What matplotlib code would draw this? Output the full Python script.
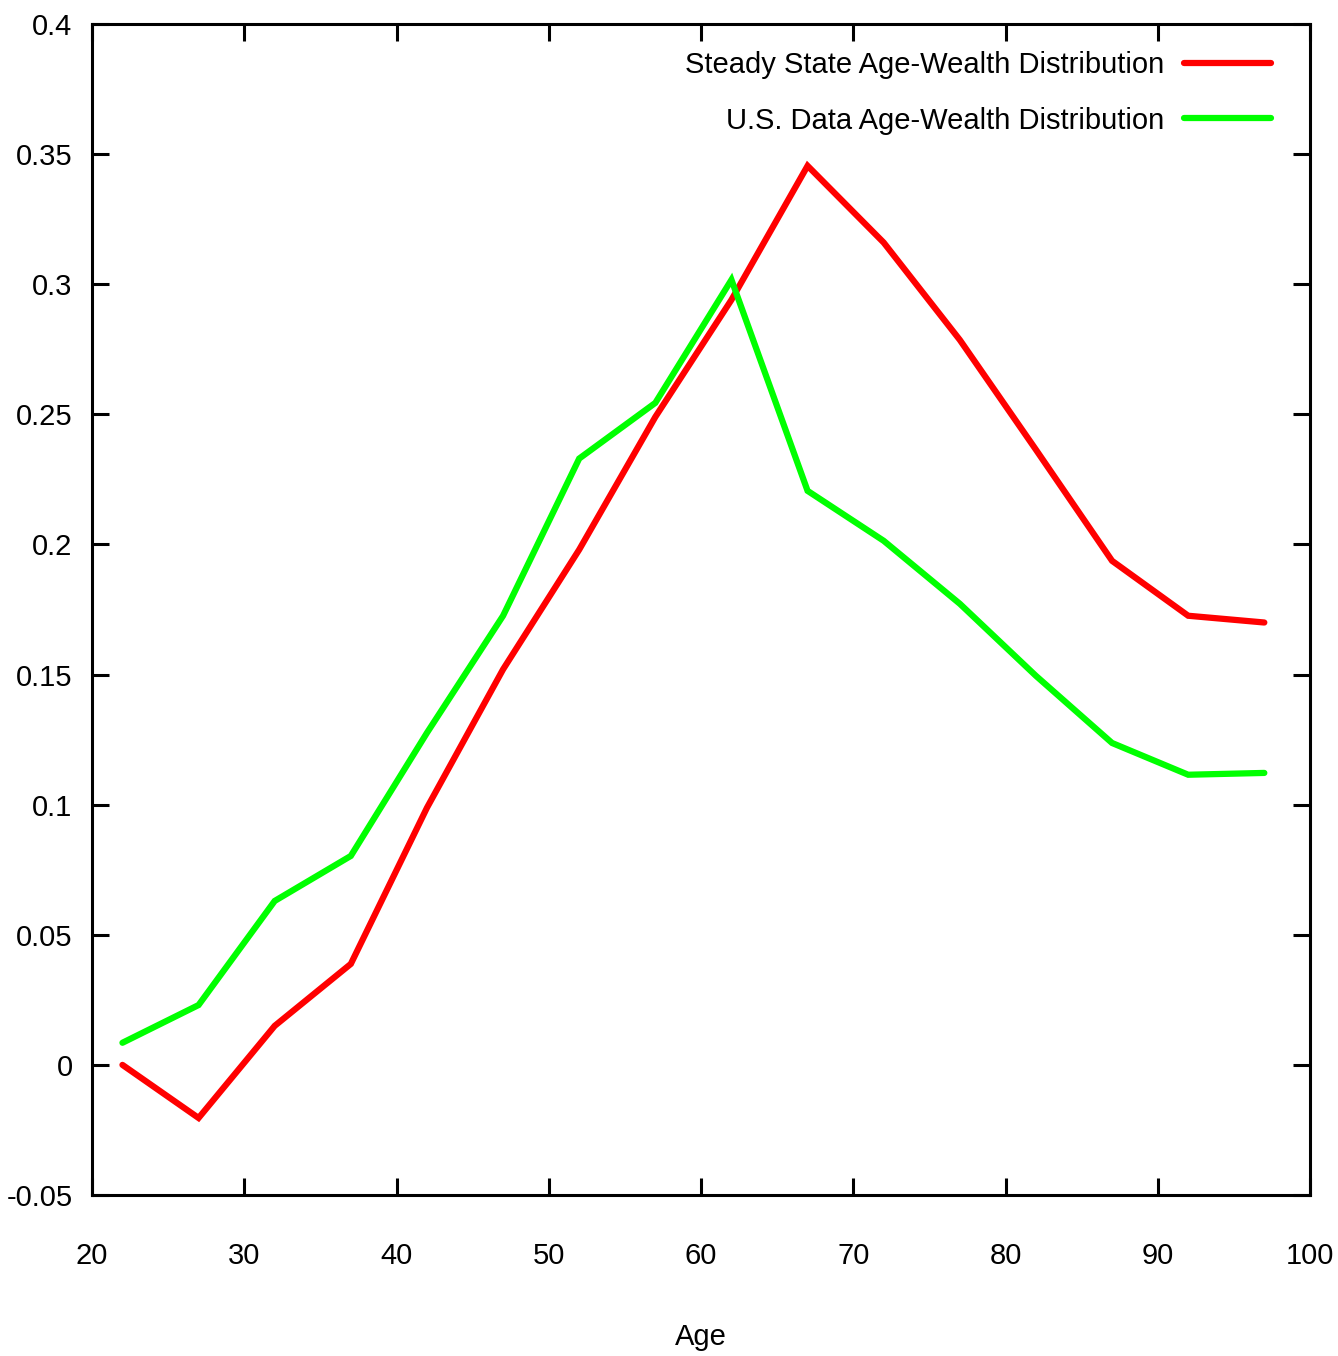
import matplotlib
matplotlib.use("Agg")
import matplotlib.pyplot as plt
from matplotlib import font_manager

# ---- data ----
ages = [22, 27, 32, 37, 42, 47, 52, 57, 62, 67, 72, 77, 82, 87, 92, 97]
steady_state = [0.0, -0.0204, 0.015, 0.0388, 0.0988, 0.152, 0.198, 0.249,
                0.294, 0.3455, 0.316, 0.2786, 0.2364, 0.1937, 0.1726, 0.170]
us_data = [0.0085, 0.023, 0.063, 0.0803, 0.1276, 0.1726, 0.233, 0.2544,
           0.3017, 0.2206, 0.2014, 0.1772, 0.1495, 0.1237, 0.1115, 0.1122]

xticks = [20, 30, 40, 50, 60, 70, 80, 90, 100]
yticks = [-0.05, 0, 0.05, 0.1, 0.15, 0.2, 0.25, 0.3, 0.35, 0.4]
ytick_labels = ["-0.05", "0", "0.05", "0.1", "0.15", "0.2", "0.25", "0.3", "0.35", "0.4"]

# gnuplot output uses a narrow helvetica; take Liberation Sans Narrow if it is there
narrow = None
for f in font_manager.fontManager.ttflist:
    fn = f.fname.lower().replace("-", "").replace("_", "")
    if "liberationsansnarrow" in fn and "bold" not in fn and "italic" not in fn:
        narrow = f
        break
if narrow is not None:
    plt.rcParams["font.family"] = [narrow.name, "DejaVu Sans"]
    FS = 24
else:
    plt.rcParams["font.family"] = ["Liberation Sans", "DejaVu Sans"]
    FS = 21

W, H = 1338, 1356
fig = plt.figure(figsize=(W / 100, H / 100), dpi=100)
ax = fig.add_axes([92 / W, 1 - 1195 / H, (1310 - 92) / W, (1195 - 24) / H])

ax.plot(ages, steady_state, color="#ff0000", lw=4.5, solid_capstyle="round",
        solid_joinstyle="miter", label="Steady State Age-Wealth Distribution")
ax.plot(ages, us_data, color="#00ff00", lw=4.5, solid_capstyle="round",
        solid_joinstyle="miter", label="U.S. Data Age-Wealth Distribution")

ax.set_xlim(20, 100)
ax.set_ylim(-0.05, 0.4)
ax.set_xticks(xticks)
ax.set_xticklabels([str(t) for t in xticks])
ax.set_yticks(yticks)
ax.set_yticklabels(ytick_labels)
ax.tick_params(direction="in", length=12, width=2.2, top=True, right=True,
               labelsize=FS, pad=14)
ax.tick_params(axis="x", pad=34)
for s in ax.spines.values():
    s.set_linewidth(2.2)

ax.set_xlabel("Age", fontsize=FS, labelpad=38)

leg = ax.legend(loc="upper right", frameon=False, markerfirst=False, fontsize=FS,
                handlelength=3.0, handletextpad=0.65, labelspacing=0.95,
                borderaxespad=0.35, bbox_to_anchor=(0.986, 0.9957))

fig.savefig("out.png", dpi=100)
